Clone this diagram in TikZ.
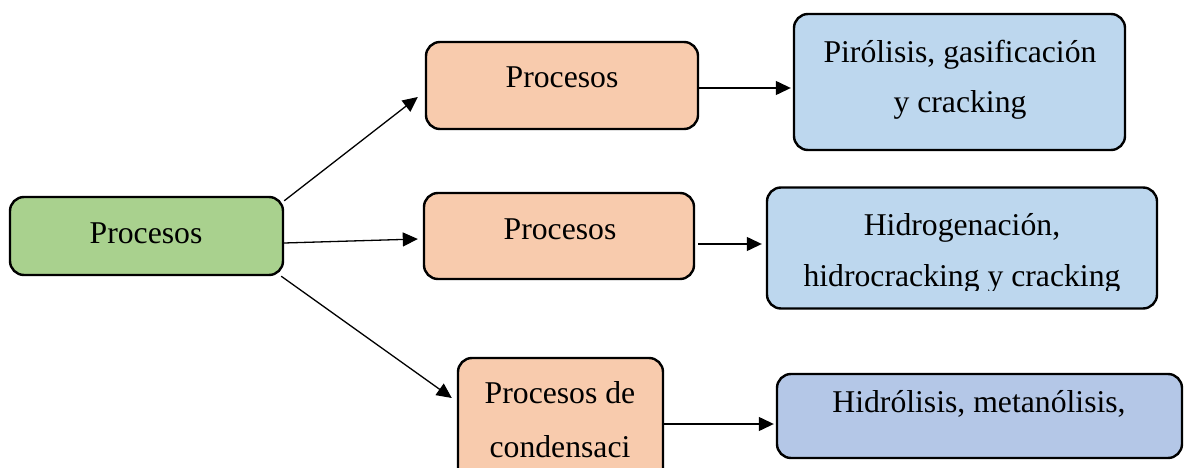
\documentclass[tikz,border=0pt]{standalone}
\usepackage{fontspec}
\setmainfont{Liberation Serif}
\usetikzlibrary{arrows.meta}
\definecolor{cgreen}{HTML}{A9D18E}
\definecolor{corange}{HTML}{F8CBAD}
\definecolor{clblue}{HTML}{BDD7EE}
\definecolor{cblue}{HTML}{B4C7E7}
\tikzset{
  box/.style={draw=black, line width=2.4pt, rounded corners=14pt, inner sep=0pt},
  lbl/.style={anchor=base, inner sep=0pt, font=\fontsize{31.7}{38}\selectfont},
  conn/.style={line width=1.3pt, -{Triangle[length=15pt,width=14pt]}}
}
\begin{document}
\begin{tikzpicture}[x=1pt,y=-1pt]
\useasboundingbox (0,0) rectangle (1184,468);
\clip (0,0) rectangle (1184,468);
% boxes
\node[box, fill=cgreen, minimum width=273pt, minimum height=78pt] (g) at (146.5,236) {};
\node[box, fill=corange, minimum width=272pt, minimum height=87pt] (o1) at (562,85.5) {};
\node[box, fill=corange, minimum width=270pt, minimum height=86pt] (o2) at (559,236) {};
\node[box, fill=corange, minimum width=205pt, minimum height=142pt] (o3) at (560.5,429) {};
\node[box, fill=clblue, minimum width=331pt, minimum height=136pt] (b1) at (959.5,82) {};
\node[box, fill=clblue, minimum width=390pt, minimum height=121pt] (b2) at (962,248) {};
\node[box, fill=cblue, minimum width=405pt, minimum height=84pt] (b3) at (979.5,416) {};
% texts
\node[lbl] (tg) at (146,243) {Procesos};
\node[lbl] (to1) at (562,88) {Procesos};
\node[lbl] (to2) at (560,239) {Procesos};
\node[lbl] (to3a) at (560,403) {Procesos de};
\node[lbl] (to3b) at (560,457) {condensaci};
\node[lbl] (tb1a) at (960,63) {Pirólisis, gasificación};
\node[lbl] (tb1b) at (960,113) {y cracking};
\node[lbl] (tb2a) at (962,235) {Hidrogenación,};
\begin{scope}
\clip (767,188) rectangle (1157,290);
\node[lbl] (tb2b) at (962,286) {hidrocracking y cracking};
\end{scope}
\node[lbl] (tb3) at (979,412) {Hidrólisis, metanólisis,};
% connectors
\draw[conn] ([yshift=-5pt]g.north east) -- ([xshift=-7pt,yshift=-11.5pt]o1.west);
\draw[conn] ([yshift=-7pt]g.east) -- ([xshift=-5pt,yshift=-3pt]o2.west);
\draw[conn] ([xshift=-3pt]g.south east) -- ([xshift=-5pt,yshift=31pt]o3.west);
\draw[conn] ([yshift=-2.5pt]o1.east) -- ([xshift=-2pt,yshift=-6pt]b1.west);
\draw[conn] ([xshift=3pt,yshift=-8pt]o2.east) -- ([xshift=-4pt,yshift=4pt]b2.west);
\draw[conn] ([yshift=5pt]o3.east) -- ([xshift=-2pt,yshift=-8pt]b3.west);
\end{tikzpicture}
\end{document}
